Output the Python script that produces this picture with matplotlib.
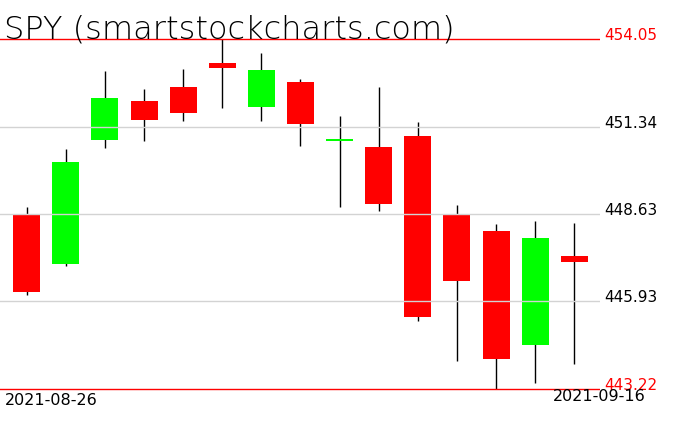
import matplotlib
matplotlib.use("Agg")
import matplotlib.pyplot as plt
import numpy as np

dates = ["2021-08-26", "2021-08-27", "2021-08-30", "2021-08-31", "2021-09-01",
         "2021-09-02", "2021-09-03", "2021-09-07", "2021-09-08", "2021-09-09",
         "2021-09-10", "2021-09-13", "2021-09-14", "2021-09-15", "2021-09-16"]
opens  = [448.61, 447.09, 450.93, 452.13, 452.56, 453.31, 451.96, 452.72, 450.89, 450.72,
          451.05, 448.61, 448.11, 444.59, 447.34]
highs  = [448.86, 450.65, 453.06, 452.50, 453.12, 454.05, 453.62, 452.81, 451.67, 452.56,
          451.48, 448.92, 448.33, 448.42, 448.36]
lows   = [446.14, 447.04, 450.69, 450.90, 451.52, 451.91, 451.52, 450.73, 448.84, 448.72,
          445.31, 444.10, 443.22, 443.42, 444.00]
closes = [446.23, 450.24, 452.22, 451.55, 451.77, 453.15, 453.09, 451.43, 450.91, 448.95,
          445.44, 446.57, 444.16, 447.89, 447.16]
grid_levels = [451.34, 448.63, 445.93]
hi_level = 454.05
lo_level = 443.22
title = "SPY (smartstockcharts.com)"

W, H = 676, 431
fig = plt.figure(figsize=(W / 100, H / 100), dpi=100)
fig.patch.set_facecolor("white")

# axes placement in pixels
ax_left, ax_right = 0, 600
top_px, bot_px = 40, 390           # pixel rows of hi_level / lo_level
pad = 10
ax_top, ax_bot = top_px - pad, bot_px + pad
ax = fig.add_axes([ax_left / W, (H - ax_bot) / H, (ax_right - ax_left) / W, (ax_bot - ax_top) / H])
ppd = (bot_px - top_px) / (hi_level - lo_level)
ax.set_ylim(lo_level - pad / ppd, hi_level + pad / ppd)

n = len(dates)
x = np.arange(n)
spacing = 39.11
first_center = 26.7
ax.set_xlim(-first_center / spacing, (ax_right - ax_left - first_center) / spacing)
ax.axis("off")

o = np.array(opens); c = np.array(closes)
up = c >= o
cols = np.where(up, "#00ff00", "#ff0000")
min_h = 2.0 / ppd
bottoms = np.minimum(o, c)
heights = np.maximum(np.abs(c - o), min_h)

ax.vlines(x, lows, highs, color="black", lw=1.0, zorder=1)
ax.bar(x, heights, bottom=bottoms, width=27 / spacing, color=cols, linewidth=0, zorder=2)

for g in grid_levels:
    ax.axhline(g, color="#d3d3d3", lw=1.0, zorder=3)
ax.axhline(hi_level, color="#ff0000", lw=1.0, zorder=3)
ax.axhline(lo_level, color="#ff0000", lw=1.0, zorder=3)

def py(v):
    return top_px + (hi_level - v) * ppd

label_font = dict(family="DejaVu Sans", fontsize=11)
for v in [hi_level] + grid_levels + [lo_level]:
    colr = "#ff0000" if v in (hi_level, lo_level) else "black"
    fig.text(604 / W, (H - py(v)) / H, f"{v:.2f}", color=colr, ha="left", va="baseline", **label_font)

fig.text(4 / W, (H - 38.5) / H, title, fontsize=23, family="DejaVu Sans", weight="light",
         ha="left", va="baseline", color="black")

fig.text(5 / W, (H - 393) / H, dates[0], fontsize=11.5, family="DejaVu Sans", ha="left", va="top")
fig.text(646 / W, (H - 389) / H, dates[-1], fontsize=11.5, family="DejaVu Sans", ha="right", va="top")

fig.savefig("out.png", dpi=100, facecolor="white")
